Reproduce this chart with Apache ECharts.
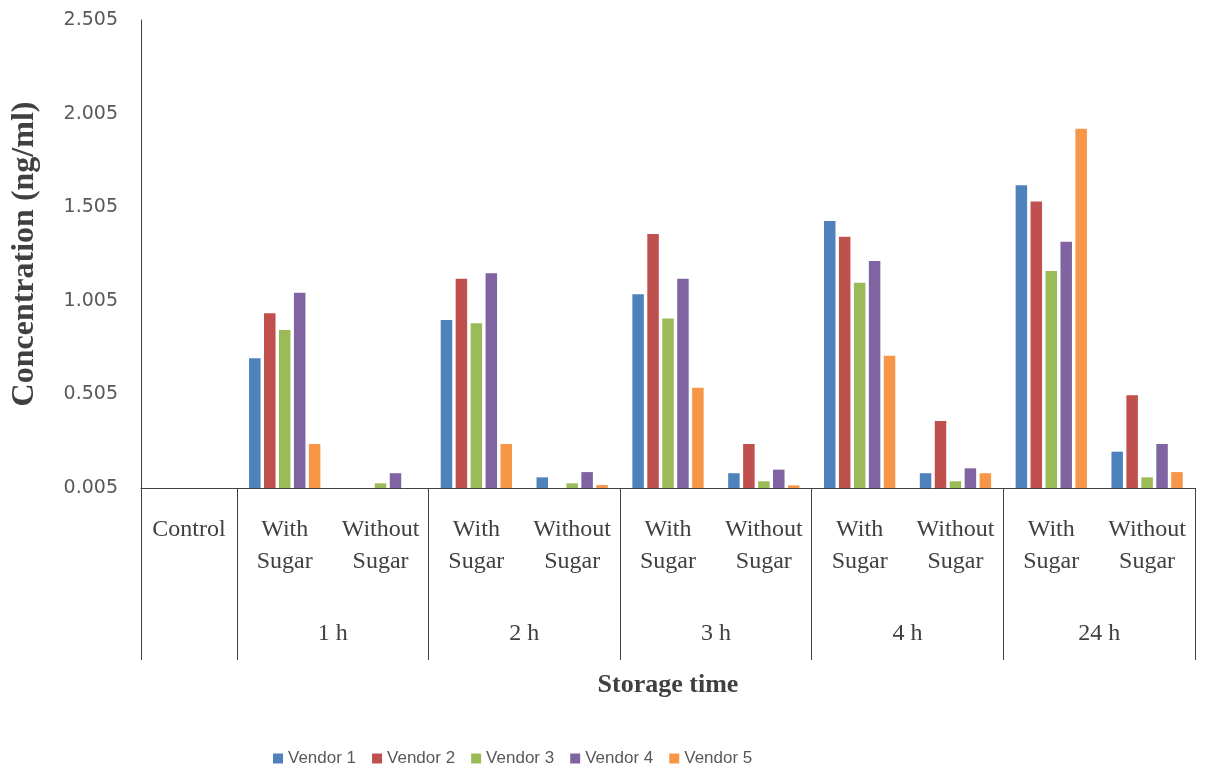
<!DOCTYPE html>
<html>
<head>
<meta charset="utf-8">
<script src="https://cdn.jsdelivr.net/npm/echarts@6/dist/echarts.min.js"></script>
<style>
html,body{margin:0;padding:0;background:#fff;}
#chart{width:1208px;height:767px;}
</style>
</head>
<body>
<div id="chart"></div>
<script>
// ---- data ----
var categories = ["Control", "With\nSugar", "Without\nSugar", "With\nSugar", "Without\nSugar",
  "With\nSugar", "Without\nSugar", "With\nSugar", "Without\nSugar", "With\nSugar", "Without\nSugar"];
var groupLabels = ["1 h", "2 h", "3 h", "4 h", "24 h"];
var seriesNames = ["Vendor 1", "Vendor 2", "Vendor 3", "Vendor 4", "Vendor 5"];
var vendor1 = [null, 0.698, null, 0.902, 0.062, 1.040, 0.084, 1.431, 0.084, 1.622, 0.199];
var vendor2 = [null, 0.938, null, 1.123, null, 1.362, 0.240, 1.347, 0.363, 1.535, 0.500];
var vendor3 = [null, 0.849, 0.030, 0.885, 0.030, 0.911, 0.041, 1.102, 0.041, 1.164, 0.062];
var vendor4 = [null, 1.048, 0.084, 1.152, 0.090, 1.123, 0.103, 1.218, 0.110, 1.321, 0.240];
var vendor5 = [null, 0.240, null, 0.240, 0.021, 0.541, 0.019, 0.712, 0.084, 1.924, 0.090];
var yTicks = { min: 0.005, max: 2.505, step: 0.5 };
var colors = ["#4F81BD", "#C0504D", "#9BBB59", "#8064A2", "#F79646"];

// group label axis: half-band positions, labels sit on group centers
var halfSlots = [];
for (var i = 0; i <= categories.length * 2; i++) halfSlots.push("");
groupLabels.forEach(function (g, k) { halfSlots[4 + 4 * k] = g; });

var allData = [vendor1, vendor2, vendor3, vendor4, vendor5];
var series = seriesNames.map(function (n, k) {
  return {
    name: n, type: "bar", data: allData[k], xAxisIndex: 0,
    barWidth: 11.5, barGap: "30%",
    itemStyle: { color: colors[k] }
  };
});

var chart = echarts.init(document.getElementById("chart"), null, { renderer: "canvas" });
chart.setOption({
  animation: false,
  backgroundColor: "#ffffff",
  grid: { left: 141, right: 13, top: 20, bottom: 279, containLabel: false, outerBoundsMode: "none" },
  legend: {
    data: seriesNames, left: 268, top: 745, itemWidth: 10, itemHeight: 10, itemGap: 16,
    icon: "rect",
    textStyle: { fontFamily: "Liberation Sans", fontSize: 17, color: "#595959" }
  },
  xAxis: [{
    type: "category", data: categories, position: "bottom",
    axisLine: { show: true, lineStyle: { color: "#404040", width: 1 } },
    axisTick: { show: true, length: 172, lineStyle: { color: "#404040", width: 1 },
      interval: function (idx) { return idx === 0 || idx % 2 === 1; } },
    axisLabel: { interval: 0, margin: 26, fontFamily: "Liberation Serif", fontSize: 24,
      lineHeight: 32, color: "#404040" },
    name: "Storage time", nameLocation: "middle", nameGap: 184,
    nameTextStyle: { fontFamily: "Liberation Serif", fontWeight: "bold", fontSize: 26, color: "#404040" }
  }, {
    type: "category", data: halfSlots, position: "bottom", boundaryGap: false,
    axisLine: { show: false }, axisTick: { show: false },
    axisLabel: { interval: 0, margin: 130, fontFamily: "Liberation Serif", fontSize: 24,
      lineHeight: 32, color: "#404040" }
  }],
  yAxis: {
    type: "value", min: yTicks.min, max: yTicks.max, interval: yTicks.step,
    axisLine: { show: true, lineStyle: { color: "#404040", width: 1 } },
    axisTick: { show: false },
    splitLine: { show: false },
    axisLabel: { margin: 23, fontFamily: "DejaVu Sans", fontSize: 19, color: "#595959",
      formatter: function (v) { return v.toFixed(3); } },
    name: "Concentration (ng/ml)", nameLocation: "middle", nameGap: 100, nameRotate: 90,
    nameTextStyle: { fontFamily: "Liberation Serif", fontWeight: "bold", fontSize: 32, color: "#404040" }
  },
  series: series
});
</script>
</body>
</html>
